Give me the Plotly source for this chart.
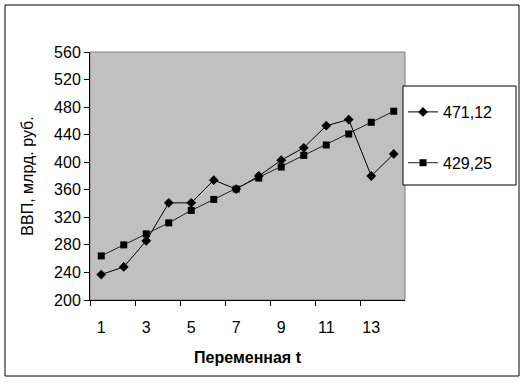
import plotly.graph_objects as go

t = list(range(1, 15))
gdp_actual = [237, 248, 286, 341, 341, 374, 361, 380, 403, 421, 453, 462, 380, 412]
gdp_trend = [264, 280, 296, 312, 330, 346, 361, 377, 393, 410, 425, 441, 458, 474]
name_actual = "471,12"
name_trend = "429,25"
x_labels = [1, 3, 5, 7, 9, 11, 13]
x_boundaries = [0.5, 2.5, 4.5, 6.5, 8.5, 10.5, 12.5]
y_ticks = list(range(200, 561, 40))

FONT = "Arial, Liberation Sans, sans-serif"

fig = go.Figure()
fig.add_trace(go.Scatter(
    x=t, y=gdp_actual, name=name_actual, mode="lines+markers",
    line=dict(color="black", width=1),
    marker=dict(symbol="diamond", size=7.5, color="black"),
    legendgroup="a",
))
fig.add_trace(go.Scatter(
    x=t, y=gdp_trend, name=name_trend, mode="lines+markers",
    line=dict(color="#202020", width=1),
    marker=dict(symbol="square", size=7, color="black"),
    legendgroup="b",
))

fig.update_layout(
    width=526, height=382,
    margin=dict(l=90, r=121, t=52, b=82),
    paper_bgcolor="white",
    plot_bgcolor="#C0C0C0",
    font=dict(family=FONT, size=16, color="black"),
    showlegend=True,
    legend=dict(
        x=0.9937, y=0.8266, xanchor="left", yanchor="top",
        bgcolor="rgba(0,0,0,0)", borderwidth=0,
        font=dict(family=FONT, size=16, color="black"),
        tracegroupgap=27,
    ),
    xaxis=dict(
        range=[0.5, 14.5],
        tickmode="array", tickvals=x_labels, ticktext=[str(v) for v in x_labels],
        ticks="", showgrid=False, zeroline=False,
        showline=True, linecolor="black", linewidth=1,
        tickfont=dict(size=16),
        ticklabelstandoff=13,
        minor=dict(tickmode="array", tickvals=x_boundaries, ticks="outside",
                   ticklen=5, tickcolor="black", tickwidth=1, showgrid=False),
        title=dict(text="<b>Переменная t</b>", font=dict(size=16), standoff=16),
    ),
    yaxis=dict(
        range=[200, 560],
        tickmode="array", tickvals=y_ticks,
        ticks="outside", ticklen=5, tickcolor="black", tickwidth=1,
        showgrid=False, zeroline=False,
        showline=True, linecolor="black", linewidth=1,
        tickfont=dict(size=16),
        title=dict(text="ВВП, млрд. руб.", font=dict(size=16), standoff=16),
    ),
    shapes=[
        dict(type="rect", xref="x domain", yref="y domain", x0=0, x1=1, y0=0, y1=1,
             line=dict(color="#808080", width=1), layer="below"),
        dict(type="rect", xref="paper", yref="paper",
             x0=0.9937, x1=1.3524, y0=0.4637, y1=0.8629,
             fillcolor="white", line=dict(color="black", width=1), layer="above"),
        dict(type="rect", xref="paper", yref="paper",
             x0=-0.2698, x1=1.3619, y0=-0.3065, y1=1.1895,
             line=dict(color="black", width=1)),
    ],
)

fig.write_html("out.html", config={"displayModeBar": False},
               post_script="document.body.style.margin='0';document.body.style.overflow='hidden';")
